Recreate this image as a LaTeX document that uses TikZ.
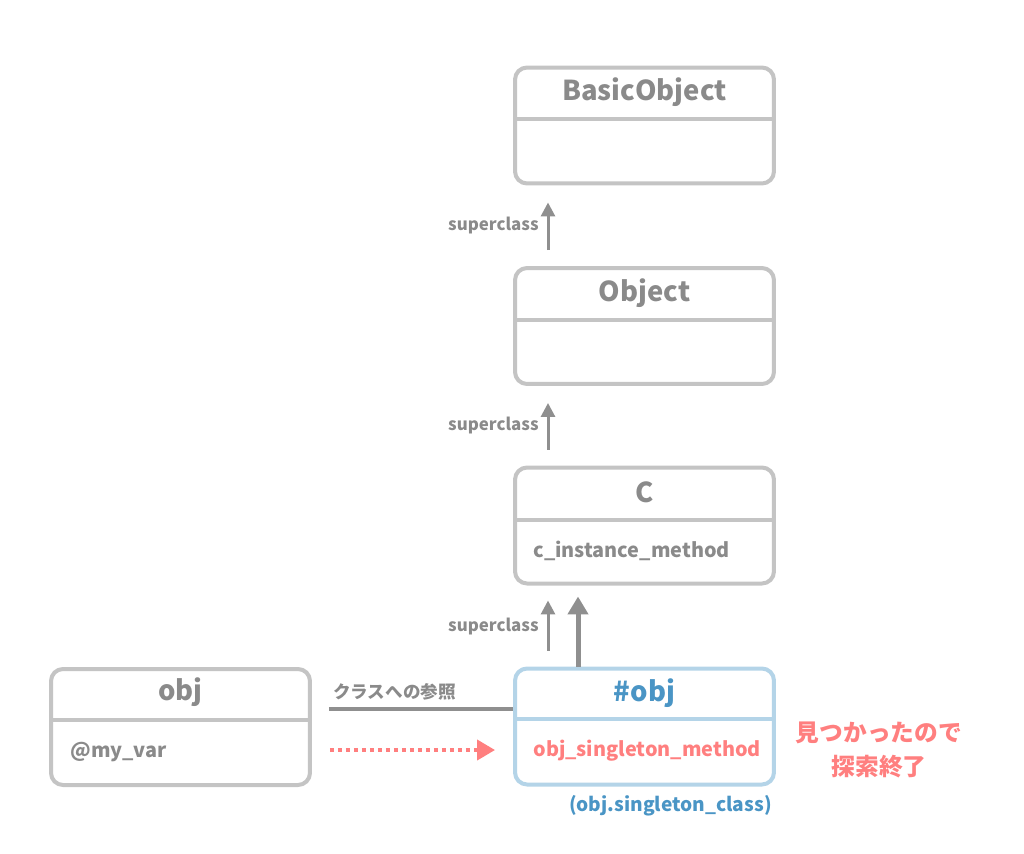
\documentclass[tikz,border=0pt]{standalone}
\usepackage{fontspec}
\setmainfont{Noto Sans CJK JP}
\usepackage{tikz}
\usetikzlibrary{arrows.meta}
\usetikzlibrary{calc}
\definecolor{boxgray}{HTML}{C4C4C4}
\definecolor{textgray}{HTML}{8A8A8A}
\definecolor{arrowgray}{HTML}{8F8F8F}
\definecolor{singblue}{HTML}{B4D4E8}
\definecolor{singtext}{HTML}{4A95C5}
\definecolor{hitred}{HTML}{FF7F7F}
\tikzset{
  classbox/.style={draw=boxgray, line width=0.08cm, rounded corners=0.24cm,
    minimum width=5.18cm, minimum height=2.32cm, fill=white},
  singbox/.style={classbox, draw=singblue},
  divider/.style={draw=boxgray, line width=0.08cm},
  titletext/.style={font=\fontsize{15.6}{18}\selectfont\bfseries, text=textgray},
  bodytext/.style={font=\fontsize{11.3}{13}\selectfont\bfseries, text=textgray, anchor=west, inner sep=0pt},
  suplabel/.style={font=\fontsize{9.6}{11}\selectfont\bfseries, text=textgray},
  suparrow/.style={draw=arrowgray, line width=0.06cm,
    -{Triangle[length=0.28cm, width=0.28cm]}},
}
\begin{document}
\begin{tikzpicture}[x=0.02cm, y=-0.02cm]
    \useasboundingbox (0,0) rectangle (1024,853);
    \coordinate (supx) at (548,0);
    \coordinate (refx) at (578,0);
    % Classes
    \node[classbox] (basic) at (644.5,125.5) {};
    \node[titletext] (basicT) at (644.5,92) {BasicObject};
    \draw[divider] (basic.west |- 0,119) -- (basic.east |- 0,119);
    %
    \node[classbox] (object) at (644.5,326) {};
    \node[titletext] (objectT) at (644.5,293) {Object};
    \draw[divider] (object.west |- 0,320) -- (object.east |- 0,320);
    %
    \node[classbox] (cls) at (644.5,525.5) {};
    \node[titletext] (clsT) at (644.5,492) {C};
    \draw[divider] (cls.west |- 0,520) -- (cls.east |- 0,520);
    \node[bodytext] (clsM) at (533,551) {c\_instance\_method};
    %
    % Singleton class
    \node[singbox] (sing) at (644.5,726.5) {};
    \node[titletext, text=singtext] (singT) at (644.5,693) {\#obj};
    \draw[divider, draw=singblue] (sing.west |- 0,719) -- (sing.east |- 0,719);
    \node[bodytext, text=hitred] (singM) at (533,751) {obj\_singleton\_method};
    \node[bodytext, text=singtext, anchor=east, font=\fontsize{10.9}{13}\selectfont\bfseries] (singN) at (772,806) {(obj.singleton\_class)};
    %
    % Instance
    \node[classbox] (obj) at (180.5,727) {};
    \node[titletext] (objT) at (180.5,692) {obj};
    \draw[divider] (obj.west |- 0,720) -- (obj.east |- 0,720);
    \node[bodytext] (objV) at (70,752) {@my\_var};
    %
    % superclass edges
    \draw[suparrow, shorten <=0.32cm, shorten >=0.34cm] (object.north -| supx) -- node[suplabel, left, xshift=-0.04cm] {superclass} (basic.south -| supx);
    \draw[suparrow, shorten <=0.32cm, shorten >=0.34cm] (cls.north -| supx) -- node[suplabel, left, xshift=-0.04cm] {superclass} (object.south -| supx);
    \draw[suparrow, shorten <=0.32cm, shorten >=0.3cm] (sing.north -| supx) -- node[suplabel, left, xshift=-0.04cm] {superclass} (cls.south -| supx);
    \draw[draw=arrowgray, line width=0.1cm, -{Triangle[length=0.36cm, width=0.4cm]}, shorten >=0.22cm] (sing.north -| refx) -- (cls.south -| refx);
    %
    % reference to class
    \draw[draw=arrowgray, line width=0.08cm, shorten <=0.34cm] (obj.east |- 0,709) -- node[suplabel, above, font=\fontsize{10}{11}\selectfont\bfseries, xshift=-0.36cm, yshift=0.02cm] {クラスへの参照} (sing.west |- 0,709);
    \draw[draw=hitred, line width=0.08cm, dash pattern=on 0.08cm off 0.08cm,
      -{Triangle[length=0.36cm, width=0.4cm]}, shorten <=0.36cm, shorten >=0.36cm] (obj.east |- 0,750) -- (sing.west |- 0,750);
    %
    \node[font=\fontsize{13.5}{19}\selectfont\bfseries, text=hitred, align=center] (found) at (879,750) {見つかったので\\探索終了};
\end{tikzpicture}
\end{document}
